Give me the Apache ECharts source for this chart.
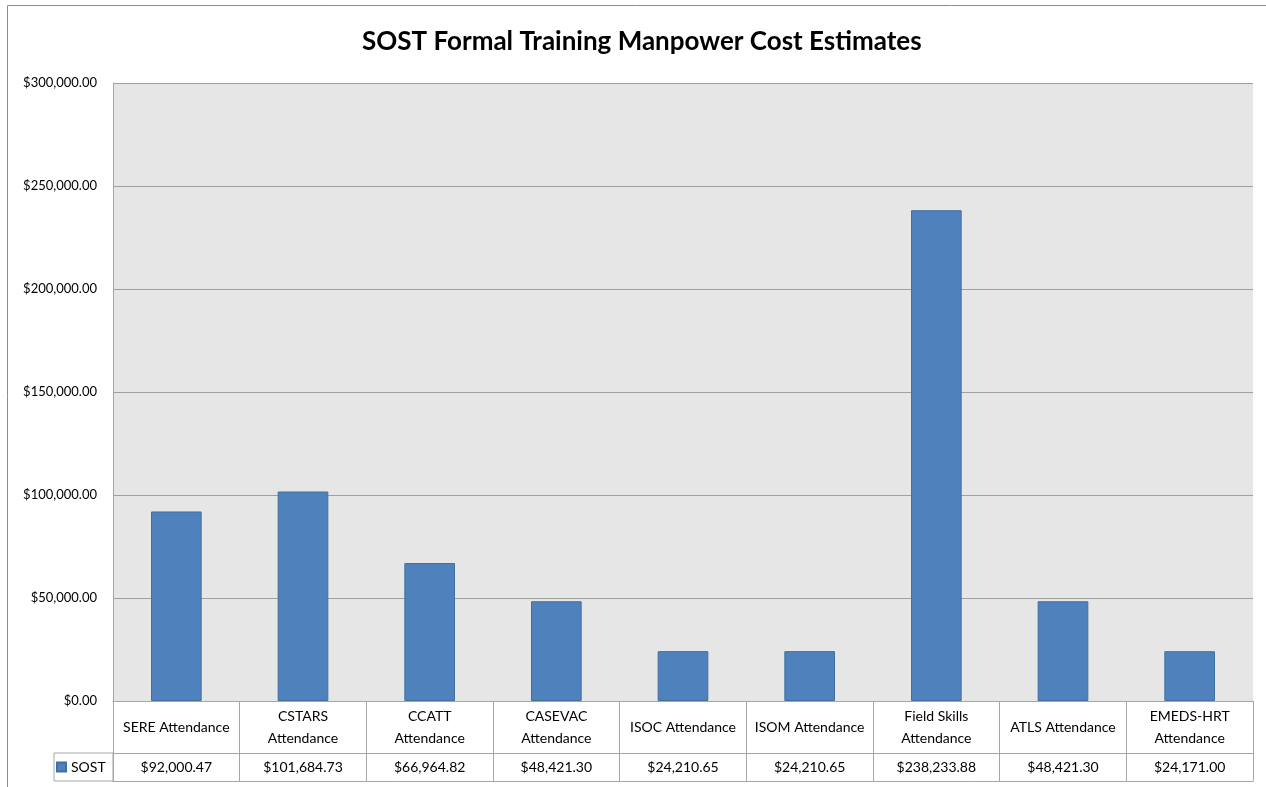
<!DOCTYPE html>
<html>
<head>
<meta charset="utf-8">
<script src="https://cdn.jsdelivr.net/npm/echarts@6/dist/echarts.min.js"></script>
<style>
html,body{margin:0;padding:0;background:#fff;}
#c{width:1266px;height:787px;}
</style>
</head>
<body>
<div id="c"></div>
<script>
var categories = ["SERE Attendance", "CSTARS\nAttendance", "CCATT\nAttendance", "CASEVAC\nAttendance", "ISOC Attendance", "ISOM Attendance", "Field Skills\nAttendance", "ATLS Attendance", "EMEDS-HRT\nAttendance"];
var seriesName = "SOST";
var values = [92000.47, 101684.73, 66964.82, 48421.30, 24210.65, 24210.65, 238233.88, 48421.30, 24171.00];
var yTicks = [0, 50000, 100000, 150000, 200000, 250000, 300000];

function money(v) {
  return '$' + Number(v).toLocaleString('en-US', {minimumFractionDigits: 2, maximumFractionDigits: 2});
}

var FONT = 'Lato';
var GRID = {left: 113, top: 83, width: 1140, height: 618};
var ROW1 = 52, ROW2 = 28;
var LINE = '#a6a6a6';
var chart = echarts.init(document.getElementById('c'), null, {renderer: 'canvas'});
var gridBottom = GRID.top + GRID.height;

chart.setOption({
  animation: false,
  textStyle: {fontFamily: FONT},
  title: {
    text: 'SOST Formal Training Manpower Cost Estimates',
    left: 357,
    top: 24,
    textStyle: {fontFamily: FONT, fontWeight: 'bold', fontSize: 26, color: '#000'}
  },
  legend: {
    data: [seriesName],
    left: GRID.left - 57,
    top: gridBottom + ROW1 + 7,
    icon: 'rect',
    itemWidth: 9,
    itemHeight: 9,
    itemGap: 4,
    padding: 0,
    textStyle: {fontFamily: FONT, fontSize: 14, color: '#000'}
  },
  grid: {
    left: GRID.left, top: GRID.top, width: GRID.width, height: GRID.height,
    show: true, backgroundColor: '#e6e6e6', borderWidth: 0
  },
  xAxis: [
    {
      type: 'category',
      data: categories,
      axisLine: {show: true, lineStyle: {color: LINE, width: 1}},
      axisTick: {show: true, interval: 0, length: ROW1 + ROW2, lineStyle: {color: LINE}},
      axisLabel: {interval: 0, margin: ROW1 / 2, verticalAlign: 'middle', lineHeight: 22, fontSize: 14, color: '#000', fontFamily: FONT},
      splitLine: {show: false}
    },
    {
      type: 'category',
      position: 'bottom',
      offset: ROW1,
      data: values.map(money),
      axisLine: {show: true, lineStyle: {color: LINE, width: 1}},
      axisTick: {show: false},
      axisLabel: {interval: 0, margin: ROW2 / 2, verticalAlign: 'middle', fontSize: 14, color: '#000', fontFamily: FONT}
    },
    {
      type: 'category',
      position: 'bottom',
      offset: ROW1 + ROW2,
      data: categories,
      axisLine: {show: true, lineStyle: {color: LINE, width: 1}},
      axisTick: {show: false},
      axisLabel: {show: false}
    }
  ],
  yAxis: {
    type: 'value',
    min: yTicks[0],
    max: yTicks[yTicks.length - 1],
    interval: yTicks[1] - yTicks[0],
    axisLine: {show: true, lineStyle: {color: LINE}},
    axisTick: {show: false},
    axisLabel: {margin: 16, fontSize: 13, color: '#000', fontFamily: FONT, formatter: money},
    splitLine: {show: true, lineStyle: {color: '#a0a0a0', width: 1}}
  },
  graphic: [
    {type: 'rect', silent: true, shape: {x: GRID.left - 59, y: gridBottom + ROW1, width: 59, height: ROW2},
     style: {fill: 'none', stroke: LINE, lineWidth: 1}},
    {type: 'line', silent: true, shape: {x1: 7.5, y1: 5.5, x2: 1266, y2: 5.5}, style: {stroke: '#8c8c8c', lineWidth: 1}},
    {type: 'line', silent: true, shape: {x1: 7.5, y1: 5.5, x2: 7.5, y2: 787}, style: {stroke: '#8c8c8c', lineWidth: 1}}
  ],
  series: [{
    name: seriesName,
    type: 'bar',
    data: values,
    barWidth: '40%',
    itemStyle: {color: '#4f81bd', borderColor: '#41709f', borderWidth: 1}
  }]
});
</script>
</body>
</html>
